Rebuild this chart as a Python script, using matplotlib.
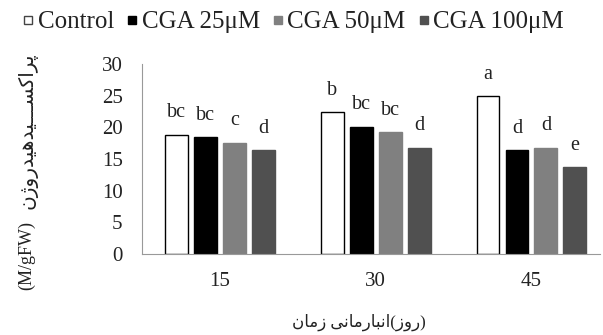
import matplotlib
matplotlib.use("Agg")
import matplotlib.pyplot as plt
from matplotlib.lines import Line2D
import numpy as np

# ---- data ----
categories = ["15", "30", "45"]
series_names = ["Control", "CGA 25\u03bcM", "CGA 50\u03bcM", "CGA 100\u03bcM"]
control = [18.8, 22.4, 24.9]
cga25 = [18.4, 20.1, 16.4]
cga50 = [17.6, 19.2, 16.8]
cga100 = [16.4, 16.8, 13.7]
letters_control = ["bc", "b", "a"]
letters_cga25 = ["bc", "bc", "d"]
letters_cga50 = ["c", "bc", "d"]
letters_cga100 = ["d", "d", "e"]
yticks = [0, 5, 10, 15, 20, 25, 30]
xlabel_text = "زمان انبارمانی(روز)"
ylabel_fa = "پراکســـیدهیدروژن"
ylabel_unit = "(M/gFW)"

# ---- minimal Persian shaping (presentation forms) ----
FORMS = {  # iso, fin, ini, med ; None for right-joining letters
    "ا": ("\uFE8D", "\uFE8E", None, None),
    "ب": ("\uFE8F", "\uFE90", "\uFE91", "\uFE92"),
    "ر": ("\uFEAD", "\uFEAE", None, None),
    "ز": ("\uFEAF", "\uFEB0", None, None),
    "س": ("\uFEB1", "\uFEB2", "\uFEB3", "\uFEB4"),
    "د": ("\uFEA9", "\uFEAA", None, None),
    "م": ("\uFEE1", "\uFEE2", "\uFEE3", "\uFEE4"),
    "ن": ("\uFEE5", "\uFEE6", "\uFEE7", "\uFEE8"),
    "ه": ("\uFEE9", "\uFEEA", "\uFEEB", "\uFEEC"),
    "و": ("\uFEED", "\uFEEE", None, None),
    "ی": ("\uFBFC", "\uFBFD", "\uFBFE", "\uFBFF"),
    "پ": ("\uFB56", "\uFB57", "\uFB58", "\uFB59"),
    "ک": ("\uFB8E", "\uFB8F", "\uFB90", "\uFB91"),
    "ژ": ("\uFB8A", "\uFB8B", None, None),
    "\u0640": ("\u0640", "\u0640", "\u0640", "\u0640"),
}


def dual(c):
    return c in FORMS and FORMS[c][2] is not None


def shape_run(s):
    out = []
    for i, c in enumerate(s):
        prev = s[i - 1] if i > 0 else ""
        nxt = s[i + 1] if i + 1 < len(s) else ""
        jp = dual(prev)
        jn = dual(c) and nxt in FORMS
        f = FORMS[c]
        if jp and jn:
            out.append(f[3])
        elif jp:
            out.append(f[1])
        elif jn:
            out.append(f[2])
        else:
            out.append(f[0])
    return "".join(reversed(out))


def shape(s):
    # each run of Persian letters is shaped and reversed; run order kept as written
    res, run = [], ""
    for c in s:
        if c in FORMS:
            run += c
        else:
            if run:
                res.append(shape_run(run))
                run = ""
            res.append(c)
    if run:
        res.append(shape_run(run))
    return "".join(res)


FAM = ["Liberation Serif", "DejaVu Sans"]
plt.rcParams["font.family"] = FAM

fig = plt.figure(figsize=(6.03, 3.35), dpi=100)
W, H = 603, 335
left, right, bottom, top = 142, 600, 254, 64
ax = fig.add_axes([left / W, 1 - bottom / H, (right - left) / W, (bottom - top) / H])

series = [control, cga25, cga50, cga100]
letters = [letters_control, letters_cga25, letters_cga50, letters_cga100]
faces = ["white", "black", "#808080", "#505050"]
edges = ["black", "black", "#808080", "#505050"]

x = np.arange(len(categories))
bw = 0.147
step = 0.186
offs = (np.arange(4) - 1.5) * step
for k in range(4):
    bars = ax.bar(x + offs[k], series[k], width=bw, color=faces[k],
                  edgecolor=edges[k], linewidth=1.0, zorder=2)
    for b, lab in zip(bars, letters[k]):
        ax.annotate(lab, (b.get_x() + b.get_width() / 2, b.get_height()),
                    xytext=(0, 9), textcoords="offset points",
                    ha="center", va="bottom", fontsize=14.5, color="#222222")

ax.set_ylim(0, 30)
ax.set_xlim(-0.5, 2.44)
ax.set_yticks(yticks)
ax.set_xticks(x)
ax.set_xticklabels(categories)
ax.tick_params(axis="both", length=0, labelsize=15, colors="#222222")
ax.tick_params(axis="y", pad=14)
ax.tick_params(axis="x", pad=13)
for s in ["top", "right"]:
    ax.spines[s].set_visible(False)
ax.spines["left"].set_color("#999999")
ax.spines["bottom"].set_color("#999999")

fig.text(359 / W, 1 - 322 / H, shape(xlabel_text),
         ha="center", va="center", fontsize=12, family=FAM, color="#222222")
fig.text(27 / W, 1 - 255 / H, ylabel_unit,
         rotation=90, ha="center", va="center", fontsize=13, family=FAM, color="#222222")
fig.text(27 / W, 1 - 131 / H, shape(ylabel_fa),
         rotation=90, ha="center", va="center", fontsize=14.5, family=FAM, color="#222222")

handles = [Line2D([], [], marker="s", linestyle="none", markersize=6.0,
                  markerfacecolor=faces[k], markeredgecolor=edges[k] if k else "#444444",
                  markeredgewidth=1.0) for k in range(4)]
fig.legend(handles, series_names, loc="center left", bbox_to_anchor=(0.04, 1 - 22 / H),
           ncol=4, frameon=False, prop={"family": FAM, "size": 18},
           handlelength=0.35, handletextpad=0.2, columnspacing=0.55,
           borderaxespad=0, borderpad=0, labelcolor="#222222")

fig.savefig("out.png", dpi=100)
